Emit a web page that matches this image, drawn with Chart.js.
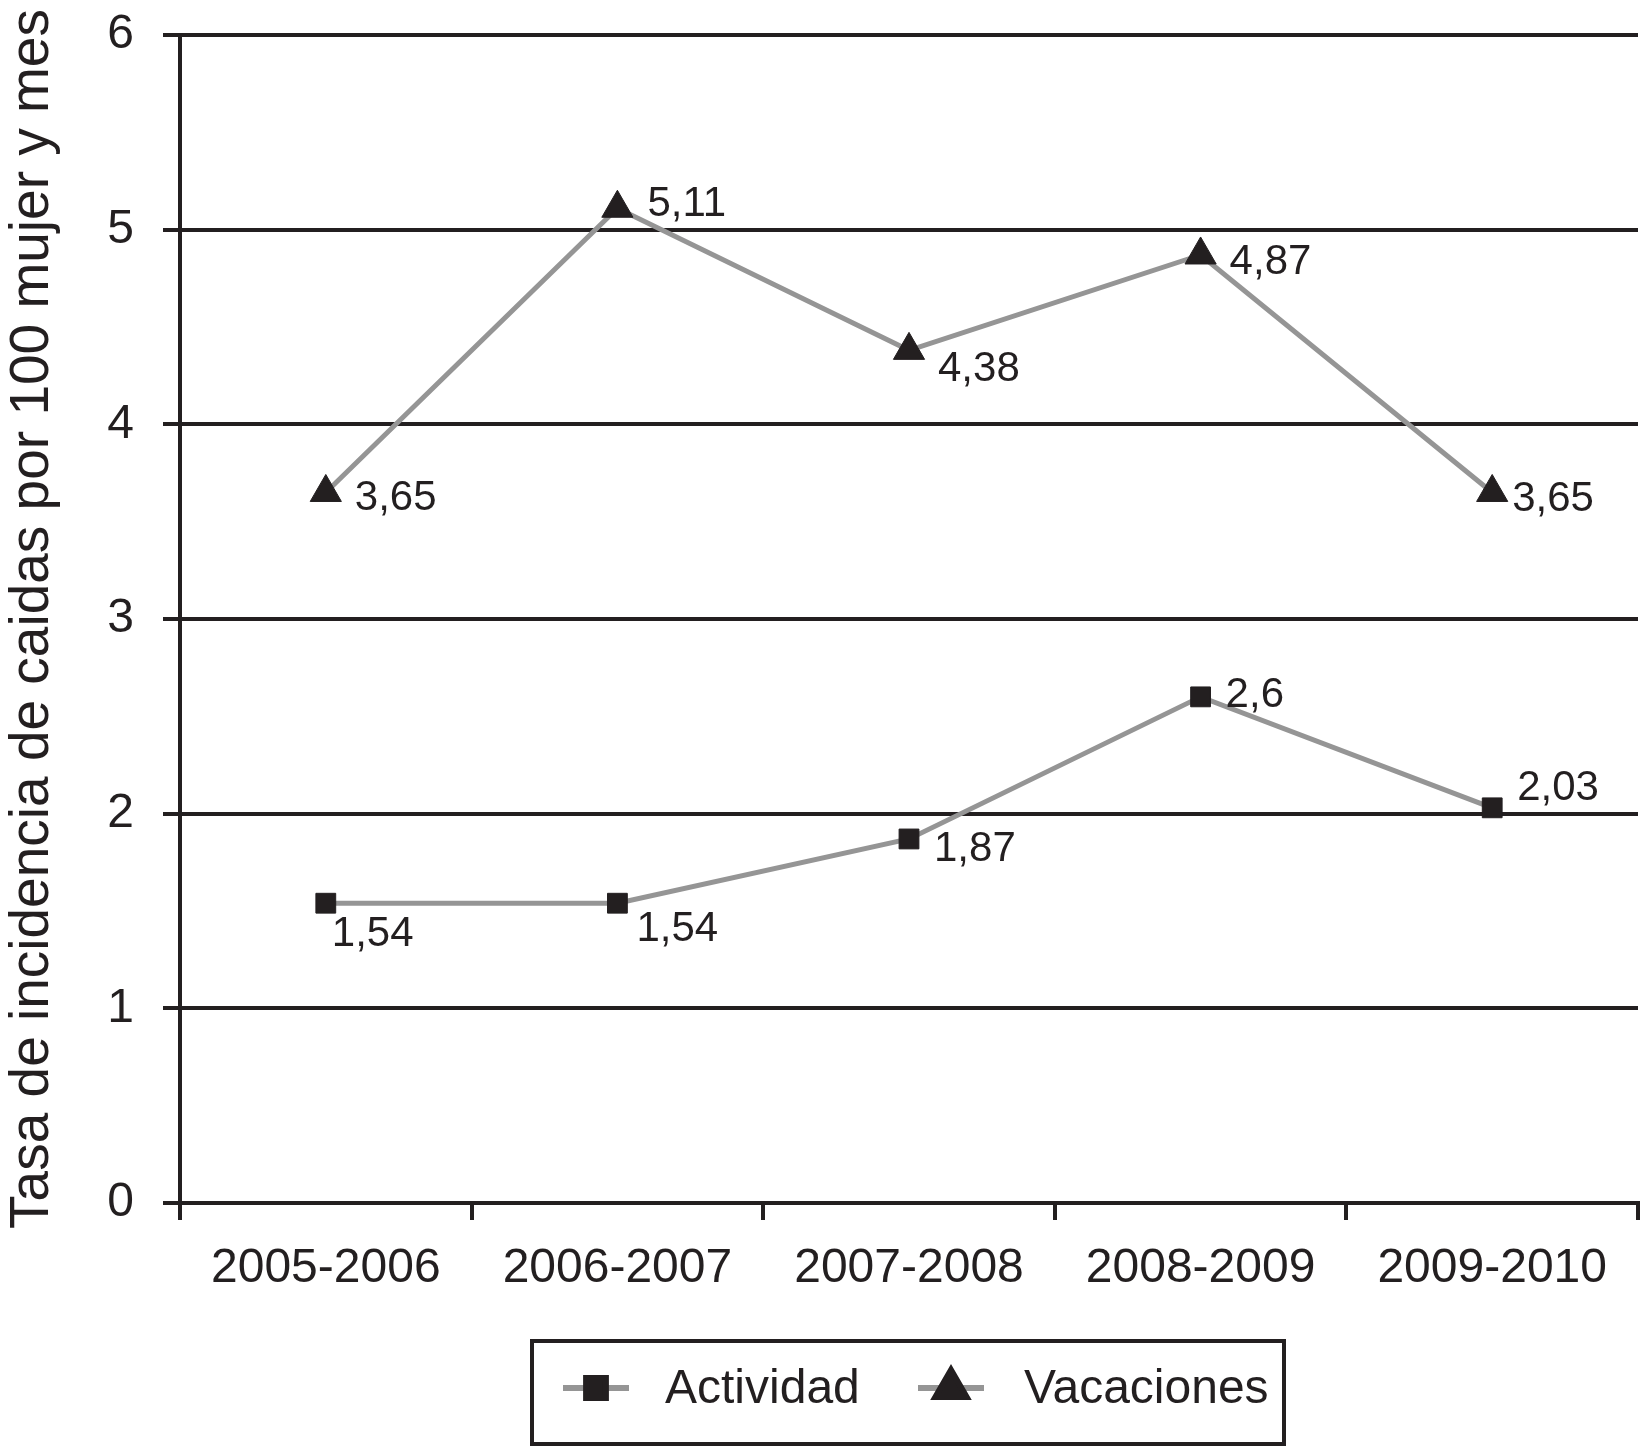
<!DOCTYPE html>
<html>
<head>
<meta charset="utf-8">
<script src="https://cdn.jsdelivr.net/npm/chart.js@4.4.0/dist/chart.umd.min.js"></script>
<style>
  body { margin: 0; background: #fff; }
</style>
</head>
<body>
<canvas id="lineChart" width="1643" height="1448"></canvas>
<script>
const categories = ['2005-2006', '2006-2007', '2007-2008', '2008-2009', '2009-2010'];
const actividad = [1.54, 1.54, 1.87, 2.6, 2.03];
const vacaciones = [3.65, 5.11, 4.38, 4.87, 3.65];
const yTicks = [0, 1, 2, 3, 4, 5, 6];

// where each value label sits next to its point (dx, dy in px)
const actividadLabelPos = [[6, 31], [19, 26], [25, 10], [25, -1], [25, -19]];
const vacacionesLabelPos = [[29, 6], [30, -4], [29, 19], [29, 7], [20, 7]];

const ink = '#231f20';
const lineGray = '#959595';
const fontFamily = '"Liberation Sans", Arial, sans-serif';

const valueLabels = {
  id: 'valueLabels',
  afterDatasetsDraw(chart) {
    const ctx = chart.ctx;
    const offsets = [actividadLabelPos, vacacionesLabelPos];
    ctx.save();
    ctx.font = '42px ' + fontFamily;
    ctx.fillStyle = ink;
    ctx.textAlign = 'left';
    ctx.textBaseline = 'middle';
    chart.data.datasets.forEach((ds, i) => {
      chart.getDatasetMeta(i).data.forEach((pt, j) => {
        const txt = String(ds.data[j]).replace('.', ',');
        ctx.fillText(txt, pt.x + offsets[i][j][0], pt.y + offsets[i][j][1]);
      });
    });
    ctx.restore();
  }
};

const boxedLegend = {
  id: 'boxedLegend',
  afterDraw(chart) {
    const ctx = chart.ctx;
    ctx.save();
    ctx.strokeStyle = ink;
    ctx.lineWidth = 4;
    ctx.strokeRect(532, 1341, 752, 103);
    const items = [
      { x: 563, textX: 665 },
      { x: 918, textX: 1024 }
    ];
    const y = 1388;
    chart.data.datasets.forEach((ds, i) => {
      const it = items[i];
      ctx.strokeStyle = ds.borderColor;
      ctx.lineWidth = 6;
      ctx.beginPath();
      ctx.moveTo(it.x, y);
      ctx.lineTo(it.x + 66, y);
      ctx.stroke();
      ctx.fillStyle = ink;
      ctx.strokeStyle = ink;
      Chart.helpers.drawPoint(ctx, {
        pointStyle: ds.pointStyle,
        radius: ds.pointRadius,
        borderWidth: 1
      }, it.x + 33, y);
      ctx.font = '48px ' + fontFamily;
      ctx.textAlign = 'left';
      ctx.textBaseline = 'middle';
      ctx.fillText(ds.label, it.textX, y + 2);
    });
    ctx.restore();
  }
};

const ctx = document.getElementById('lineChart').getContext('2d');

const lineChart = new Chart(ctx, {
  type: 'line',
  data: {
    labels: categories,
    datasets: [{
      label: 'Actividad',
      data: actividad,
      borderColor: lineGray,
      borderWidth: 5,
      pointStyle: 'rect',
      pointRadius: 14,
      pointBackgroundColor: ink,
      pointBorderColor: ink,
      pointBorderWidth: 1,
      tension: 0
    }, {
      label: 'Vacaciones',
      data: vacaciones,
      borderColor: lineGray,
      borderWidth: 5,
      pointStyle: 'triangle',
      pointRadius: 18,
      pointBackgroundColor: ink,
      pointBorderColor: ink,
      pointBorderWidth: 1,
      tension: 0
    }]
  },
  options: {
    responsive: false,
    animation: false,
    layout: {
      autoPadding: false,
      padding: { top: 35, right: 5, bottom: 0, left: 0 }
    },
    plugins: {
      legend: { display: false },
      tooltip: { enabled: false }
    },
    scales: {
      x: {
        offset: true,
        grid: {
          offset: true,
          drawOnChartArea: false,
          color: ink,
          lineWidth: 4,
          tickLength: 17
        },
        border: { color: ink, width: 4 },
        ticks: {
          color: ink,
          padding: 20,
          maxRotation: 0,
          font: { family: fontFamily, size: 48 }
        },
        afterFit(scale) {
          scale.height = 245;
          scale.paddingLeft = 0;
          scale.paddingRight = 0;
        }
      },
      y: {
        min: 0,
        max: 6,
        afterBuildTicks(scale) {
          scale.ticks = yTicks.map(v => ({ value: v }));
        },
        grid: {
          color: ink,
          lineWidth: 4,
          tickLength: 17
        },
        border: { color: ink, width: 4 },
        ticks: {
          color: ink,
          padding: 29,
          font: { family: fontFamily, size: 48 }
        },
        title: {
          display: true,
          text: 'Tasa de incidencia de caidas por 100 mujer y mes',
          color: ink,
          padding: 0,
          font: { family: fontFamily, size: 55 }
        },
        afterFit(scale) {
          scale.width = 180;
          scale.paddingTop = 0;
          scale.paddingBottom = 0;
        }
      }
    }
  },
  plugins: [valueLabels, boxedLegend]
});
</script>
</body>
</html>
